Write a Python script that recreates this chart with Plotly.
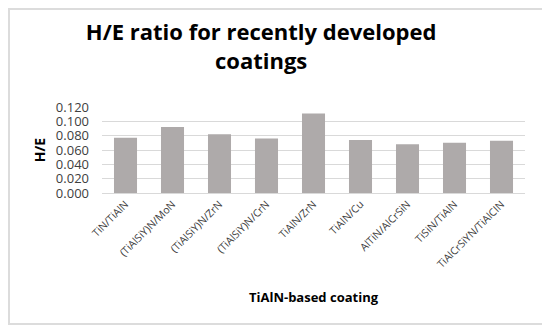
import plotly.graph_objects as go

categories = ["TiN/TiAlN", "(TiAlSiY)N/MoN", "(TiAlSiY)N/ZrN", "(TiAlSiY)N/CrN",
              "TiAlN/ZrN", "TiAlN/Cu", "AlTiN/AlCrSiN", "TiSiN/TiAlN", "TiAlCrSiYN/TiAlCIN"]
values = [0.077, 0.092, 0.082, 0.076, 0.111, 0.074, 0.068, 0.070, 0.073]
y_ticks = [0.0, 0.02, 0.04, 0.06, 0.08, 0.10, 0.12]

font_family = "Open Sans, Liberation Sans, sans-serif"

W, H = 542, 321
L, R, T, B = 94, 25, 99, 136
pw, ph = W - L - R, H - T - B

fig = go.Figure(go.Bar(x=categories, y=values, marker=dict(color="#aeaaaa", line=dict(width=0))))

fig.update_layout(
    width=W, height=H,
    paper_bgcolor="white", plot_bgcolor="white",
    margin=dict(l=L, r=R, t=T, b=B, autoexpand=False),
    bargap=0.51,
    showlegend=False,
    title=dict(text="<b>H/E ratio for recently developed<br>coatings</b>",
               x=0.467, xref="container", xanchor="center", y=0.90, yanchor="top",
               font=dict(family=font_family, size=22, color="#000000")),
    font=dict(family=font_family, color="#595959"),
    shapes=[dict(type="rect", xref="paper", yref="paper",
                 x0=(1 - L) / pw, x1=(538 - L) / pw,
                 y0=(T + ph - 316) / ph, y1=(T + ph - 1) / ph,
                 line=dict(color="#dcdcdc", width=2))],
)
fig.update_yaxes(range=[0, 0.12], tickvals=y_ticks, tickformat=".3f",
                 gridcolor="#d9d9d9", gridwidth=1, zeroline=False,
                 showline=False, ticks="", automargin=False,
                 ticklabelstandoff=12,
                 tickfont=dict(size=13, color="#404040"),
                 title=dict(text="<b>H/E</b>", font=dict(size=14, color="#000000"), standoff=6))
fig.update_xaxes(tickangle=-45, tickfont=dict(size=10.5, color="#404040"),
                 showline=True, linecolor="#d9d9d9", ticks="", automargin=False,
                 title=dict(text="<b>TiAlN-based coating</b>", font=dict(size=13, color="#000000"), standoff=23))

fig.write_html("out.html")
